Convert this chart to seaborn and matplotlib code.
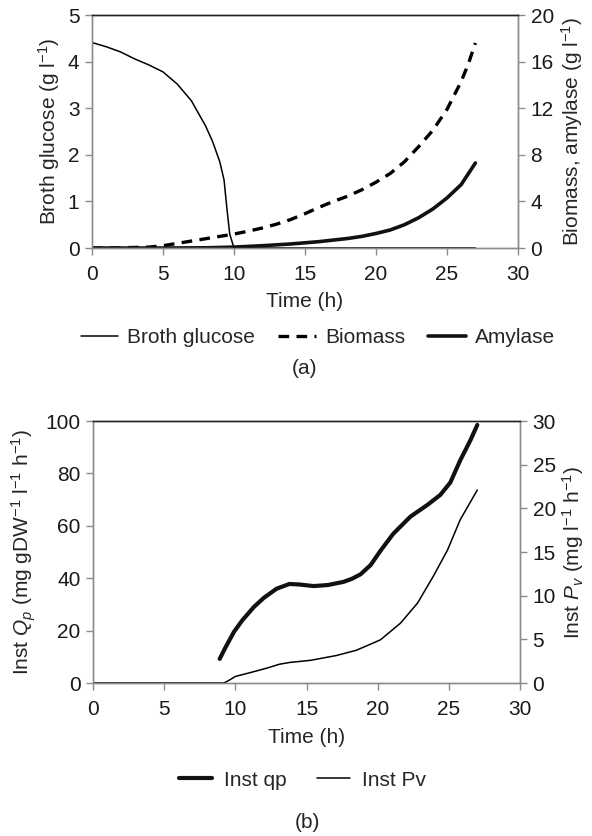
import matplotlib
matplotlib.use("Agg")
import matplotlib.pyplot as plt
import seaborn as sns
import pandas as pd

# ---------------------------------------------------------------------
# Data
# ---------------------------------------------------------------------
# panel (a)
glu_t = [0, 1, 2, 3, 4, 5, 6, 7, 8, 8.5, 9, 9.3, 9.5, 9.7, 10.0, 15, 20, 27]
glu_v = [4.41, 4.32, 4.21, 4.06, 3.93, 3.78, 3.52, 3.16, 2.62, 2.28, 1.85, 1.46,
         0.85, 0.30, 0.0, 0.0, 0.0, 0.0]

bio_t = [0, 2, 4, 5, 6, 7, 8, 9, 10, 11, 12, 13, 14, 15, 16, 17, 18, 19, 20,
         21, 22, 23, 24, 25, 26, 26.5, 27]
bio_v = [0.0, 0.02, 0.08, 0.2, 0.4, 0.6, 0.8, 1.0, 1.2, 1.45, 1.72, 2.05, 2.45,
         2.95, 3.5, 4.0, 4.45, 5.0, 5.65, 6.4, 7.4, 8.7, 10.1, 11.9, 14.3, 15.8, 17.6]

amy_t = [0, 5, 8, 10, 12, 14, 16, 18, 19, 20, 21, 22, 23, 24, 25, 26, 27]
amy_v = [0.0, 0.0, 0.02, 0.08, 0.2, 0.35, 0.55, 0.82, 1.0, 1.25, 1.55, 2.0,
         2.6, 3.35, 4.3, 5.45, 7.3]

# panel (b)
qp_t = [8.9, 9.3, 9.9, 10.5, 11.3, 12.0, 12.9, 13.8, 14.5, 15.5, 16.5, 17.6,
        18.2, 18.8, 19.5, 20.2, 21.1, 22.3, 23.5, 24.4, 25.1, 25.8, 26.5, 27.0]
qp_v = [9.2, 13.5, 19.5, 24.0, 29.0, 32.5, 36.0, 37.8, 37.6, 37.0, 37.4, 38.6,
        39.8, 41.5, 45.0, 50.5, 57.0, 63.5, 68.0, 71.8, 76.5, 85.0, 92.5, 98.5]

pv_t = [0, 5, 8, 9.2, 9.6, 10.0, 11.3, 12.2, 13.1, 13.8, 15.3, 17.1, 18.5, 19.5,
        20.2, 21.6, 22.8, 23.9, 24.9, 25.8, 27.0]
pv_v = [0.0, 0.0, 0.0, 0.0, 0.35, 0.75, 1.3, 1.7, 2.15, 2.35, 2.6, 3.15, 3.75,
        4.45, 4.95, 6.85, 9.15, 12.2, 15.2, 18.7, 22.1]

# ---------------------------------------------------------------------
# Style
# ---------------------------------------------------------------------
sns.set_style("ticks")
plt.rcParams["font.family"] = ["Liberation Sans", "DejaVu Sans"]
plt.rcParams["mathtext.fontset"] = "custom"
plt.rcParams["mathtext.rm"] = "Liberation Sans"
plt.rcParams["mathtext.it"] = "Liberation Sans:italic"

GREY = "#8c8c8c"
FS = 15


def style_axes(ax, ax2):
    for a in (ax, ax2):
        for side in ("left", "right", "bottom"):
            a.spines[side].set_color(GREY)
            a.spines[side].set_linewidth(1.0)
        a.spines["top"].set_color("#222222")
        a.spines["top"].set_linewidth(1.0)
        a.tick_params(axis="both", colors=GREY, labelcolor="#1a1a1a",
                      length=5, width=1.0, labelsize=FS, direction="out", pad=4)
    ax.tick_params(axis="x", pad=7)
    ax.set_xlim(0, 30)
    ax.set_xticks(range(0, 31, 5))


fig = plt.figure(figsize=(5.92, 8.36), dpi=100)

# ---------------------------------------------------------------------
# Panel (a)
# ---------------------------------------------------------------------
axa = fig.add_axes([0.1554, 0.7033, 0.7196, 0.2787])
axa2 = axa.twinx()

df_glu = pd.DataFrame({"t": glu_t, "v": glu_v})
df_bio = pd.DataFrame({"t": bio_t, "v": bio_v})
df_amy = pd.DataFrame({"t": amy_t, "v": amy_v})

sns.lineplot(data=df_glu, x="t", y="v", ax=axa, color="black", lw=1.1,
             estimator=None, sort=False, label="Broth glucose", legend=False)
sns.lineplot(data=df_bio, x="t", y="v", ax=axa2, color="black", lw=2.4,
             estimator=None, sort=False, label="Biomass", legend=False,
             linestyle=(0, (3.2, 2.2)))
sns.lineplot(data=df_amy, x="t", y="v", ax=axa2, color="#111111", lw=2.6,
             estimator=None, sort=False, label="Amylase", legend=False)

axa.set_ylim(0, 5)
axa.set_yticks(range(0, 6))
axa2.set_ylim(0, 20)
axa2.set_yticks(range(0, 21, 4))
style_axes(axa, axa2)
axa.set_xlabel("Time (h)", fontsize=FS, labelpad=6)
axa.set_ylabel("Broth glucose (g l$^{-1}$)", fontsize=FS, labelpad=4)
axa2.set_ylabel("Biomass, amylase (g l$^{-1}$)", fontsize=FS, labelpad=4)
axa.set_zorder(axa2.get_zorder() + 1)
axa.patch.set_visible(False)

h1, l1 = axa.get_legend_handles_labels()
h2, l2 = axa2.get_legend_handles_labels()
fig.legend(h1 + h2, l1 + l2, loc="center", bbox_to_anchor=(0.537, 1 - 338 / 836),
           ncol=3, frameon=False, fontsize=FS, handlelength=1.8,
           handletextpad=0.45, columnspacing=1.1)
fig.text(0.515, 1 - 369 / 836, "(a)", ha="center", va="center", fontsize=FS)

# ---------------------------------------------------------------------
# Panel (b)
# ---------------------------------------------------------------------
axb = fig.add_axes([0.1571, 0.1830, 0.7213, 0.3134])
axb2 = axb.twinx()

df_qp = pd.DataFrame({"t": qp_t, "v": qp_v})
df_pv = pd.DataFrame({"t": pv_t, "v": pv_v})

sns.lineplot(data=df_qp, x="t", y="v", ax=axb, color="#111111", lw=3.0,
             estimator=None, sort=False, label="Inst qp", legend=False)
sns.lineplot(data=df_pv, x="t", y="v", ax=axb2, color="black", lw=1.1,
             estimator=None, sort=False, label="Inst Pv", legend=False)

axb.set_ylim(0, 100)
axb.set_yticks(range(0, 101, 20))
axb2.set_ylim(0, 30)
axb2.set_yticks(range(0, 31, 5))
style_axes(axb, axb2)
axb.set_xlabel("Time (h)", fontsize=FS, labelpad=7)
axb.set_ylabel("Inst $Q_{\\mathit{p}}$ (mg gDW$^{-1}$ l$^{-1}$ h$^{-1}$)",
               fontsize=FS, labelpad=5)
axb2.set_ylabel("Inst $\\mathit{P}_{\\mathit{v}}$ (mg l$^{-1}$ h$^{-1}$)",
                fontsize=FS, labelpad=3)

h1, l1 = axb.get_legend_handles_labels()
h2, l2 = axb2.get_legend_handles_labels()
fig.legend(h1 + h2, l1 + l2, loc="center", bbox_to_anchor=(0.511, 1 - 780 / 836),
           ncol=2, frameon=False, fontsize=FS, handlelength=1.6,
           handletextpad=0.58, columnspacing=1.45)
fig.text(0.519, 1 - 822 / 836, "(b)", ha="center", va="center", fontsize=FS)

fig.savefig("out.png", dpi=100)
plt.close(fig)
